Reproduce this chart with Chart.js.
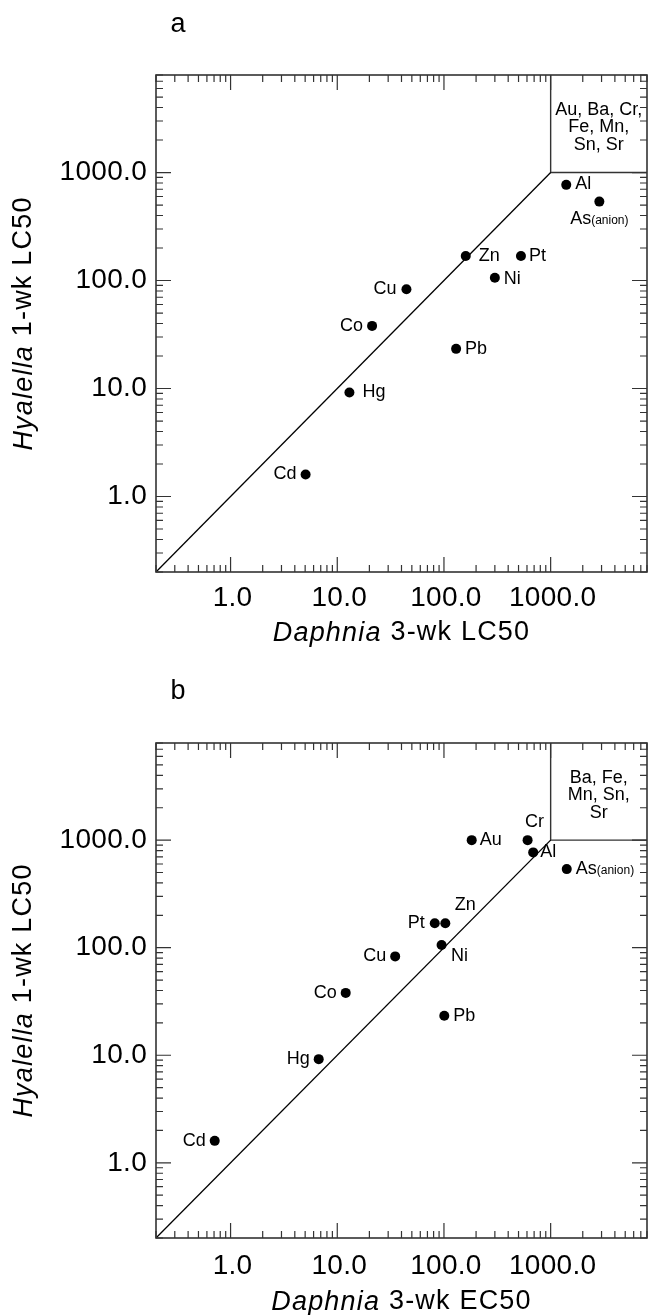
<!DOCTYPE html>
<html>
<head>
<meta charset="utf-8">
<script src="https://cdn.jsdelivr.net/npm/chart.js@4.4.1/dist/chart.umd.min.js"></script>
<style>
  html, body { margin: 0; padding: 0; background: #fff; }
  #wrap { position: relative; width: 652px; height: 1315px; }
  canvas { position: absolute; left: 0; }
</style>
</head>
<body>
<div id="wrap">
  <canvas id="chartA" width="652" height="657" style="top:0"></canvas>
  <canvas id="chartB" width="652" height="658" style="top:657px"></canvas>
</div>
<script>
// === DATA ===
// panel a: Daphnia 3-wk LC50 vs Hyalella 1-wk LC50
const metalsA = ['Al', 'As', 'Zn', 'Pt', 'Ni', 'Cu', 'Co', 'Pb', 'Hg', 'Cd'];
const daphniaLC50 = [1400, 2860, 160, 527, 300, 44.5, 21.2, 130, 13.0, 5.05];
const hyalellaA = [769, 538, 169, 169, 106, 83, 38, 23.3, 9.2, 1.6];

// panel b: Daphnia 3-wk EC50 vs Hyalella 1-wk LC50
const metalsB = ['Au', 'Cr', 'Al', 'As', 'Zn', 'Pt', 'Ni', 'Cu', 'Co', 'Pb', 'Hg', 'Cd'];
const daphniaEC50 = [182, 608, 686, 1416, 103, 82, 95, 34.9, 12.0, 100.7, 6.7, 0.71];
const hyalellaB = [1000, 1000, 769, 538, 169, 169, 106, 83, 38, 23.3, 9.2, 1.6];

// axes
const axisMin = 0.2;
const axisMax = 8000;
const majorTicks = [1, 10, 100, 1000];
const majorLabels = ['1.0', '10.0', '100.0', '1000.0'];
const oneToOne = [0.2, 1000];     // 1:1 line ends
const boxCorner = 1000;           // lower-left corner of the box top right
const boxTextA = ['Au, Ba, Cr,', 'Fe, Mn,', 'Sn, Sr'];
const boxTextB = ['Ba, Fe,', 'Mn, Sn,', 'Sr'];

// label placement per metal: [dx, dy, align]
const placeA = {
  Al: [9, -1, 'left'], As: [0, 17, 'center'], Zn: [13, 0, 'left'], Pt: [8, 0, 'left'],
  Ni: [9, 1, 'left'], Cu: [-10, 0, 'right'], Co: [-9, 0, 'right'], Pb: [9, 0, 'left'],
  Hg: [13, 0, 'left'], Cd: [-9, 0, 'right']
};
const placeB = {
  Au: [8, 0, 'left'], Cr: [7, -18, 'center'], Al: [7, 0, 'left'], As: [9, 0, 'left'],
  Zn: [20, -18, 'center'], Pt: [-10, 0, 'right'], Ni: [18, 11, 'center'], Cu: [-9, 0, 'right'],
  Co: [-9, 0, 'right'], Pb: [9, 0, 'left'], Hg: [-9, 0, 'right'], Cd: [-9, 0, 'right']
};

const FONT = "'Liberation Sans', Arial, Helvetica, sans-serif";

// minor ticks 2..9 of each decade, inside the axis range
const minorTicks = [];
[0.1, 1, 10, 100, 1000].forEach(d => {
  for (let k = 2; k <= 9; k++) {
    const v = k * d;
    if (v >= axisMin && v <= axisMax) minorTicks.push(v);
  }
});

function drawMixed(ctx, parts, cx, cy) {
  // parts: [[text, italic], ...] centred on cx
  ctx.letterSpacing = '1.2px';
  let total = 0;
  parts.forEach(p => { ctx.font = (p[1] ? 'italic ' : '') + '27px ' + FONT; total += ctx.measureText(p[0]).width; });
  let x = cx - total / 2;
  ctx.textAlign = 'left';
  ctx.textBaseline = 'middle';
  parts.forEach(p => {
    ctx.font = (p[1] ? 'italic ' : '') + '27px ' + FONT;
    ctx.fillText(p[0], x, cy);
    x += ctx.measureText(p[0]).width;
  });
  ctx.letterSpacing = '0px';
}

const framePlugin = {
  id: 'frame',
  afterDatasetsDraw(chart, args, opts) {
    const ctx = chart.ctx;
    const a = chart.chartArea;
    const xs = chart.scales.x, ys = chart.scales.y;
    ctx.save();

    // frame
    ctx.strokeStyle = '#333';
    ctx.lineWidth = 1.6;
    ctx.strokeRect(a.left, a.top, a.right - a.left, a.bottom - a.top);

    // inward ticks on all four sides
    ctx.lineWidth = 1.2;
    ctx.beginPath();
    const tick = (v, len) => {
      const px = xs.getPixelForValue(v), py = ys.getPixelForValue(v);
      ctx.moveTo(px, a.bottom); ctx.lineTo(px, a.bottom - len);
      ctx.moveTo(px, a.top); ctx.lineTo(px, a.top + len);
      ctx.moveTo(a.left, py); ctx.lineTo(a.left + len, py);
      ctx.moveTo(a.right, py); ctx.lineTo(a.right - len, py);
    };
    majorTicks.forEach(v => tick(v, 15));
    minorTicks.forEach(v => tick(v, 7));
    ctx.stroke();

    // tick labels
    ctx.fillStyle = '#000';
    ctx.font = '28px ' + FONT;
    ctx.letterSpacing = '0.3px';
    ctx.textBaseline = 'middle';
    majorTicks.forEach((v, i) => {
      ctx.textAlign = 'center';
      ctx.fillText(majorLabels[i], xs.getPixelForValue(v) + 2, a.bottom + opts.tickGap);
      ctx.textAlign = 'right';
      ctx.fillText(majorLabels[i], a.left - 9, ys.getPixelForValue(v));
    });
    ctx.letterSpacing = '0px';

    // axis titles
    drawMixed(ctx, [['Daphnia', true], [' 3-wk ' + opts.xTitle, false]], (a.left + a.right) / 2, a.bottom + opts.titleGap);
    ctx.save();
    ctx.translate(24, (a.top + a.bottom) / 2);
    ctx.rotate(-Math.PI / 2);
    drawMixed(ctx, [['Hyalella', true], [' 1-wk LC50', false]], 0, 0);
    ctx.restore();

    // panel letter
    ctx.font = '27px ' + FONT;
    ctx.textAlign = 'center';
    ctx.fillText(opts.letter, 178, opts.letterY);

    // box text
    const bx = (xs.getPixelForValue(boxCorner) + a.right) / 2;
    ctx.font = '18px ' + FONT;
    opts.boxText.forEach((t, i) => ctx.fillText(t, bx, a.top + 35 + i * 17.5));

    // point labels
    const meta = chart.getDatasetMeta(0);
    opts.names.forEach((n, i) => {
      const pt = meta.data[i];
      const p = opts.place[n];
      const x = pt.x + p[0], y = pt.y + p[1];
      ctx.textAlign = p[2];
      if (n === 'As') {
        ctx.font = '18px ' + FONT;
        const w1 = ctx.measureText('As').width;
        ctx.font = '12px ' + FONT;
        const w2 = ctx.measureText('(anion)').width;
        const sx = p[2] === 'center' ? x - (w1 + w2) / 2 : x;
        ctx.textAlign = 'left';
        ctx.font = '18px ' + FONT;
        ctx.fillText('As', sx, y);
        ctx.font = '12px ' + FONT;
        ctx.fillText('(anion)', sx + w1, y + 2);
      } else {
        ctx.font = '18px ' + FONT;
        ctx.fillText(n, x, y);
      }
    });
    ctx.restore();
  }
};

function makeChart(id, names, xs, ys, padding, opts) {
  const pts = names.map((n, i) => ({ x: xs[i], y: ys[i] }));
  return new Chart(document.getElementById(id), {
    type: 'scatter',
    data: {
      datasets: [
        { data: pts, pointRadius: 5, pointBackgroundColor: '#000', pointBorderWidth: 0 },
        { type: 'line', data: oneToOne.map(v => ({ x: v, y: v })), borderColor: '#000',
          borderWidth: 1.3, pointRadius: 0, fill: false },
        { type: 'line', data: [{ x: boxCorner, y: axisMax }, { x: boxCorner, y: boxCorner }, { x: axisMax, y: boxCorner }],
          borderColor: '#333', borderWidth: 1.4, pointRadius: 0, fill: false }
      ]
    },
    options: {
      responsive: false,
      animation: false,
      layout: { padding: padding },
      plugins: { legend: { display: false }, tooltip: { enabled: false }, frame: opts },
      scales: {
        x: { type: 'logarithmic', min: axisMin, max: axisMax, display: false },
        y: { type: 'logarithmic', min: axisMin, max: axisMax, display: false }
      }
    },
    plugins: [framePlugin]
  });
}

makeChart('chartA', metalsA, daphniaLC50, hyalellaA,
  { left: 156, top: 75, right: 1, bottom: 85 },
  { letter: 'a', letterY: 25, xTitle: 'LC50', boxText: boxTextA, names: metalsA, place: placeA, tickGap: 26, titleGap: 61 });

makeChart('chartB', metalsB, daphniaEC50, hyalellaB,
  { left: 156, top: 86, right: 1, bottom: 77 },
  { letter: 'b', letterY: 35, xTitle: 'EC50', boxText: boxTextB, names: metalsB, place: placeB, tickGap: 28, titleGap: 64 });
</script>
</body>
</html>
